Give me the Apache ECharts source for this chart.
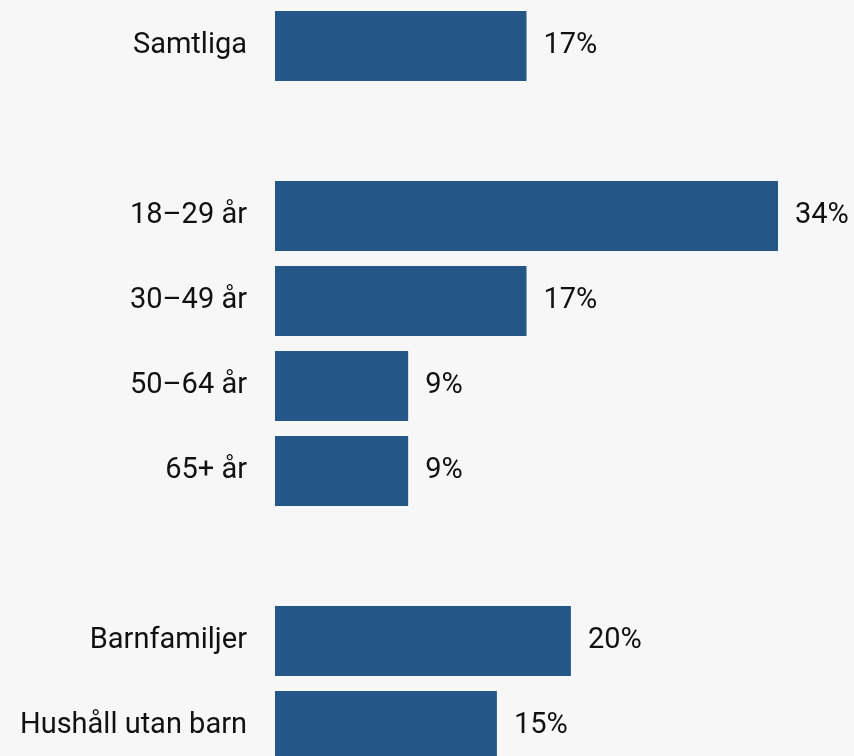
<!DOCTYPE html>
<html>
<head>
<meta charset="utf-8">
<script src="https://cdn.jsdelivr.net/npm/echarts@6/dist/echarts.min.js"></script>
<style>
  html, body { margin: 0; padding: 0; background: #f7f7f7; overflow: hidden; }
  #main { width: 854px; height: 770px; }
</style>
</head>
<body>
<div id="main"></div>
<script>
// tomma kategorier ger luft mellan grupperna
const categories = ['Samtliga', '', '18–29 år', '30–49 år', '50–64 år', '65+ år', '', 'Barnfamiljer', 'Hushåll utan barn']
const values = [17, null, 34, 17, 9, 9, null, 20, 15]

// diagrammet är beskuret nertill, därför är ytan högre än fönstret
const myChart = echarts.init(document.getElementById('main'))
const option = {
  backgroundColor: '#f7f7f7',
  animation: false,
  grid: {
    left: 275,
    right: 76,
    top: 3.5,
    bottom: 1.5,
    containLabel: false,
  },
  xAxis: {
    type: 'value',
    min: 0,
    max: 34,
    show: false,
  },
  yAxis: {
    type: 'category',
    inverse: true,
    data: categories,
    axisLine: { show: false },
    axisTick: { show: false },
    axisLabel: {
      margin: 28,
      color: '#111',
      fontSize: 29,
      fontFamily: 'Roboto',
      padding: [4, 0, 0, 0],
    },
  },
  series: [
    {
      type: 'bar',
      data: values,
      barWidth: 70,
      itemStyle: { color: '#245788' },
      label: {
        show: true,
        position: 'right',
        distance: 17,
        formatter: (p) => p.value + '%',
        color: '#111',
        fontSize: 29,
        fontFamily: 'Roboto',
        padding: [4, 0, 0, 0],
      },
    },
  ],
}
myChart.setOption(option)
</script>
</body>
</html>
